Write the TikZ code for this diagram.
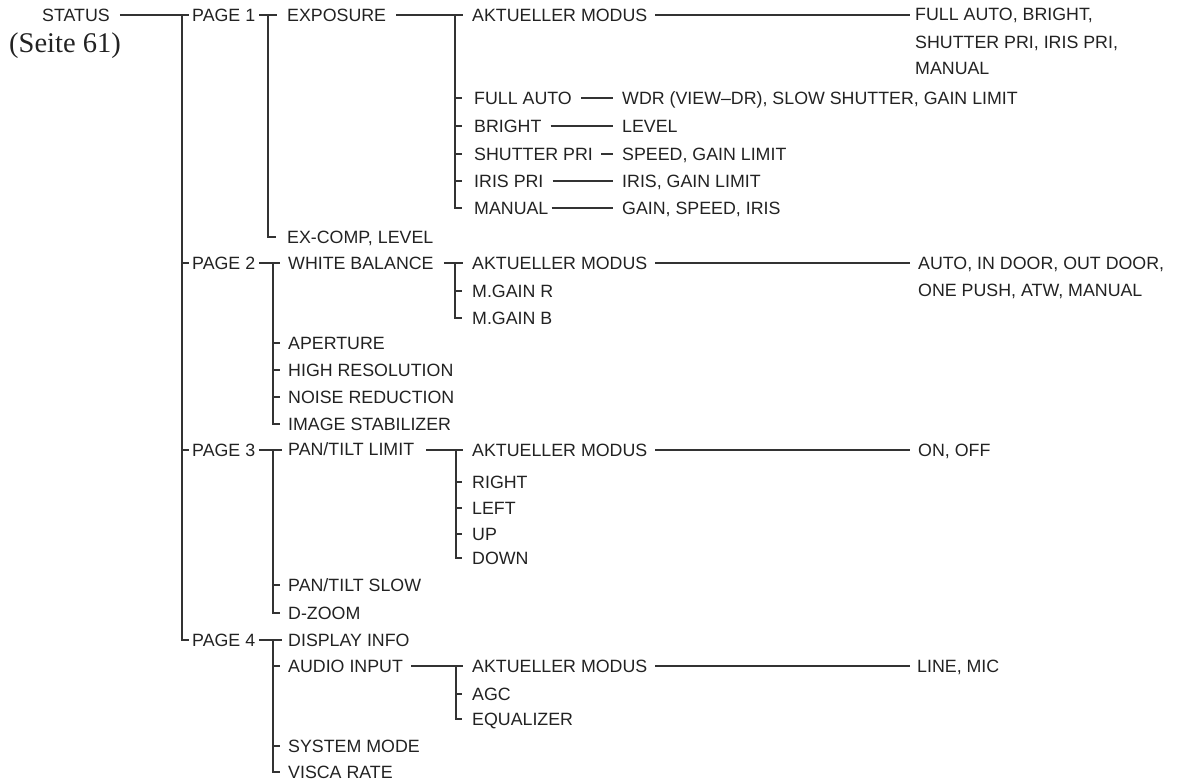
\documentclass[tikz,border=0pt]{standalone}
\usepackage{fontspec}
\setmainfont{Liberation Sans}
\newfontfamily\seriffont{Liberation Serif}
\definecolor{ink}{HTML}{222222}
\definecolor{wire}{HTML}{333333}
\tikzset{
  lbl/.style={anchor=west, inner sep=0pt, text height=12.7pt, text depth=0pt,
    text=ink, font=\fontsize{17.8}{21}\selectfont},
  ln/.style={draw=wire, line width=1.3pt},
}
\begin{document}
\begin{tikzpicture}[x=1pt,y=-1pt]
\useasboundingbox (0,0) rectangle (1180,782);
% level 0
\node[lbl] (status) at (42,15) {STATUS};
\node[anchor=west, inner sep=0pt, text=ink, font=\seriffont\fontsize{28.5}{32}\selectfont] (seite) at (9,46) {(Seite 61)};
% pages
\node[lbl] (p1) at (192,15) {PAGE 1};
\node[lbl] (p2) at (192,263) {PAGE 2};
\node[lbl] (p3) at (192,450) {PAGE 3};
\node[lbl] (p4) at (192,640) {PAGE 4};
% level 2
\node[lbl] (exposure) at (287,15) {EXPOSURE};
\node[lbl] (excomp) at (287,237) {EX-COMP, LEVEL};
\node[lbl] (wb) at (288,263) {WHITE BALANCE};
\node[lbl] (aperture) at (288,343) {APERTURE};
\node[lbl] (highres) at (288,370) {HIGH RESOLUTION};
\node[lbl] (noise) at (288,397) {NOISE REDUCTION};
\node[lbl] (stab) at (288,424) {IMAGE STABILIZER};
\node[lbl] (ptl) at (288,449) {PAN/TILT LIMIT};
\node[lbl] (pts) at (288,585) {PAN/TILT SLOW};
\node[lbl] (dzoom) at (288,613) {D-ZOOM};
\node[lbl] (disp) at (288,640) {DISPLAY INFO};
\node[lbl] (audio) at (288,666) {AUDIO INPUT};
\node[lbl] (sysm) at (288,746) {SYSTEM MODE};
\node[lbl] (visca) at (288,772) {VISCA RATE};
% level 3
\node[lbl] (am1) at (472,15) {AKTUELLER MODUS};
\node[lbl] (fa) at (474,98) {FULL AUTO};
\node[lbl] (br) at (474,126) {BRIGHT};
\node[lbl] (sp) at (474,154) {SHUTTER PRI};
\node[lbl] (ip) at (474,181) {IRIS PRI};
\node[lbl] (ma) at (474,208) {MANUAL};
\node[lbl] (am2) at (472,263) {AKTUELLER MODUS};
\node[lbl] (mgr) at (472,291) {M.GAIN R};
\node[lbl] (mgb) at (472,318) {M.GAIN B};
\node[lbl] (am3) at (472,450) {AKTUELLER MODUS};
\node[lbl] (right) at (472,482) {RIGHT};
\node[lbl] (left) at (472,508) {LEFT};
\node[lbl] (up) at (472,534) {UP};
\node[lbl] (down) at (472,558) {DOWN};
\node[lbl] (am4) at (472,666) {AKTUELLER MODUS};
\node[lbl] (agc) at (472,694) {AGC};
\node[lbl] (eq) at (472,719) {EQUALIZER};
% level 4
\node[lbl] (wdr) at (622,98) {WDR (VIEW--DR), SLOW SHUTTER, GAIN LIMIT};
\node[lbl] (lev) at (622,126) {LEVEL};
\node[lbl] (spd) at (622,154) {SPEED, GAIN LIMIT};
\node[lbl] (iris) at (622,181) {IRIS, GAIN LIMIT};
\node[lbl] (gain) at (622,208) {GAIN, SPEED, IRIS};
% values
\node[lbl] (v1a) at (915,14) {FULL AUTO, BRIGHT,};
\node[lbl] (v1b) at (915,42) {SHUTTER PRI, IRIS PRI,};
\node[lbl] (v1c) at (915,68) {MANUAL};
\node[lbl] (v2a) at (918,263) {AUTO, IN DOOR, OUT DOOR,};
\node[lbl] (v2b) at (918,290) {ONE PUSH, ATW, MANUAL};
\node[lbl] (v3) at (918,450) {ON, OFF};
\node[lbl] (v4) at (917,666) {LINE, MIC};

% junction coordinates
\coordinate (t0) at (182,15);
\coordinate (t4) at (182,640);
\coordinate (q1) at (268,15);
\coordinate (q1e) at (268,237);
\coordinate (q2) at (273,263);
\coordinate (q2e) at (273,424);
\coordinate (q3) at (273,450);
\coordinate (q3e) at (273,613);
\coordinate (q4) at (273,640);
\coordinate (q4e) at (273,772);
\coordinate (r1) at (455,15);
\coordinate (r1e) at (455,208);
\coordinate (r2) at (455,263);
\coordinate (r2e) at (455,318);
\coordinate (r3) at (456,450);
\coordinate (r3e) at (456,558);
\coordinate (r4) at (456,666);
\coordinate (r4e) at (456,719);

% trunk
\draw[ln] ([xshift=10pt]status.east) -- ([xshift=7pt]t0);
\draw[ln] (t0) -- (t4) -- ([xshift=-3pt]p4.west);
\draw[ln] (t0 |- p2.west) -- ([xshift=-3pt]p2.west);
\draw[ln] (t0 |- p3.west) -- ([xshift=-3pt]p3.west);

% page 1
\draw[ln] ([xshift=4pt]p1.east) -- ([xshift=9pt]q1);
\draw[ln] (q1) -- (q1e) -- ([xshift=-11pt]excomp.west);
% page 2
\draw[ln] ([xshift=4pt]p2.east) -- ([xshift=7pt]q2);
\draw[ln] (q2) -- (q2e) -- ([xshift=-8pt]stab.west);
\draw[ln] (q2 |- aperture.west) -- ([xshift=-8pt]aperture.west);
\draw[ln] (q2 |- highres.west) -- ([xshift=-8pt]highres.west);
\draw[ln] (q2 |- noise.west) -- ([xshift=-8pt]noise.west);
% page 3
\draw[ln] ([xshift=4pt]p3.east) -- ([xshift=9pt]q3);
\draw[ln] (q3) -- (q3e) -- ([xshift=-8pt]dzoom.west);
\draw[ln] (q3 |- pts.west) -- ([xshift=-8pt]pts.west);
% page 4
\draw[ln] ([xshift=4pt]p4.east) -- ([xshift=9pt]q4);
\draw[ln] (q4) -- (q4e) -- ([xshift=-8pt]visca.west);
\draw[ln] (q4 |- audio.west) -- ([xshift=-8pt]audio.west);
\draw[ln] (q4 |- sysm.west) -- ([xshift=-8pt]sysm.west);

% exposure
\draw[ln] ([xshift=10pt]exposure.east) -- ([xshift=8pt]r1);
\draw[ln] (r1) -- (r1e) -- ([xshift=-12pt]ma.west);
\draw[ln] (r1 |- fa.west) -- ([xshift=-12pt]fa.west);
\draw[ln] (r1 |- br.west) -- ([xshift=-12pt]br.west);
\draw[ln] (r1 |- sp.west) -- ([xshift=-12pt]sp.west);
\draw[ln] (r1 |- ip.west) -- ([xshift=-12pt]ip.west);
% white balance
\draw[ln] ([xshift=10pt]wb.east) -- ([xshift=8pt]r2);
\draw[ln] (r2) -- (r2e) -- ([xshift=-10pt]mgb.west);
\draw[ln] (r2 |- mgr.west) -- ([xshift=-10pt]mgr.west);
% pan/tilt limit
\draw[ln] ([xshift=12pt]ptl.east |- r3) -- ([xshift=7pt]r3);
\draw[ln] (r3) -- (r3e) -- ([xshift=-10pt]down.west);
\draw[ln] (r3 |- right.west) -- ([xshift=-10pt]right.west);
\draw[ln] (r3 |- left.west) -- ([xshift=-10pt]left.west);
\draw[ln] (r3 |- up.west) -- ([xshift=-10pt]up.west);
% audio input
\draw[ln] ([xshift=8pt]audio.east) -- ([xshift=7pt]r4);
\draw[ln] (r4) -- (r4e) -- ([xshift=-10pt]eq.west);
\draw[ln] (r4 |- agc.west) -- ([xshift=-10pt]agc.west);

% aktueller modus lines
\draw[ln] ([xshift=8pt]am1.east) -- ([xshift=-5pt]v1a.west |- am1.east);
\draw[ln] ([xshift=8pt]am2.east) -- ([xshift=-8pt]v2a.west);
\draw[ln] ([xshift=8pt]am3.east) -- ([xshift=-8pt]v3.west);
\draw[ln] ([xshift=8pt]am4.east) -- ([xshift=-7pt]v4.west);

% exposure mode lines
\draw[ln] ([xshift=9pt]fa.east) -- ([xshift=-9pt]wdr.west);
\draw[ln] ([xshift=9pt]br.east) -- ([xshift=-9pt]lev.west);
\draw[ln] ([xshift=8pt]sp.east) -- ([xshift=-9pt]spd.west);
\draw[ln] ([xshift=9pt]ip.east) -- ([xshift=-9pt]iris.west);
\draw[ln] ([xshift=3pt]ma.east) -- ([xshift=-9pt]gain.west);
\end{tikzpicture}
\end{document}
